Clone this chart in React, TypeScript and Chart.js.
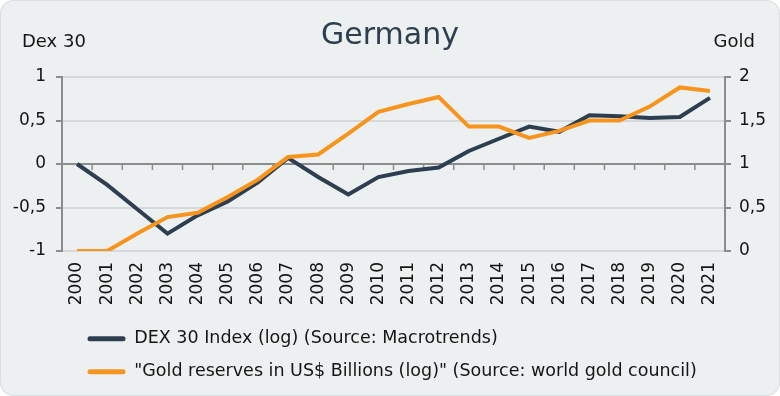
import React, { useEffect, useRef } from 'react';
import { Chart, registerables } from 'chart.js';

Chart.register(...registerables);

// ---- Data ----
const years = ['2000', '2001', '2002', '2003', '2004', '2005', '2006', '2007', '2008', '2009', '2010',
  '2011', '2012', '2013', '2014', '2015', '2016', '2017', '2018', '2019', '2020', '2021'];

const dexValues = [0, -0.24, -0.52, -0.8, -0.59, -0.43, -0.21, 0.07, -0.15, -0.35, -0.15,
  -0.08, -0.04, 0.15, 0.29, 0.43, 0.37, 0.56, 0.55, 0.53, 0.54, 0.76];

const goldValues = [0, 0, 0.2, 0.39, 0.44, 0.62, 0.82, 1.08, 1.11, 1.35, 1.6,
  1.69, 1.77, 1.43, 1.43, 1.3, 1.38, 1.5, 1.5, 1.66, 1.88, 1.84];

const leftRange = [-1, 1];
const rightRange = [0, 2];
const tickStep = 0.5;

const titleText = 'Germany';
const leftAxisTitle = 'Dex 30';
const rightAxisTitle = 'Gold';
const dexLabel = 'DEX 30 Index (log) (Source: Macrotrends)';
const goldLabel = '"Gold reserves in US$ Billions (log)" (Source: world gold council)';

// ---- Styles ----
const FONT = '"DejaVu Sans", sans-serif';
const AXIS_GRAY = '#8c8c8c';
const GRID_GRAY = '#d6d9db';
const TEXT = '#151515';
const DEX_COLOR = '#2C3E50';
const GOLD_COLOR = '#F7941D';

const fmt = (v: number | string) => String(v).replace('.', ',');

const zeroAxisPlugin = {
  id: 'zeroAxis',
  beforeDatasetsDraw(chart: any) {
    const x = chart.scales.x;
    const y = chart.scales.y;
    const y0 = y.getPixelForValue(0);
    const ctx = chart.ctx;
    ctx.save();
    ctx.strokeStyle = AXIS_GRAY;
    ctx.lineWidth = 1.5;
    ctx.beginPath();
    for (let i = 1; i < years.length; i++) {
      const bx = (x.getPixelForValue(i - 1) + x.getPixelForValue(i)) / 2;
      ctx.moveTo(bx, y0);
      ctx.lineTo(bx, y0 + 6);
    }
    ctx.stroke();
    ctx.restore();
  },
};

const headerPlugin = {
  id: 'header',
  afterDraw(chart: any) {
    const ctx = chart.ctx;
    ctx.save();
    ctx.font = `18px ${FONT}`;
    ctx.fillStyle = TEXT;
    ctx.textBaseline = 'middle';
    ctx.textAlign = 'left';
    ctx.fillText(leftAxisTitle, 22, 42);
    ctx.textAlign = 'right';
    ctx.fillText(rightAxisTitle, chart.width - 25, 42);
    ctx.restore();
  },
};

const legendShiftPlugin = {
  id: 'legendShift',
  afterLayout(chart: any) {
    const l = chart.legend;
    if (l) {
      l.left += 10;
      l.right += 10;
    }
  },
};

export default function App() {
  const canvasRef = useRef<HTMLCanvasElement | null>(null);

  useEffect(() => {
    document.body.style.margin = '0';
    const canvas = canvasRef.current;
    if (!canvas) return;
    const chart = new Chart(canvas, {
      type: 'line',
      data: {
        labels: years,
        datasets: [
          {
            label: dexLabel,
            data: dexValues,
            yAxisID: 'y',
            borderColor: DEX_COLOR,
            backgroundColor: DEX_COLOR,
            borderWidth: 4,
            pointRadius: 0,
            tension: 0,
            order: 1,
          },
          {
            label: goldLabel,
            data: goldValues,
            yAxisID: 'y1',
            borderColor: GOLD_COLOR,
            backgroundColor: GOLD_COLOR,
            borderWidth: 4,
            pointRadius: 0,
            tension: 0,
            order: 0,
          },
        ],
      },
      options: {
        responsive: true,
        maintainAspectRatio: false,
        animation: false,
        events: [],
        layout: { padding: { left: 0, right: 0, top: 0, bottom: 5.5 } },
        scales: {
          x: {
            type: 'category',
            offset: true,
            grid: { display: false, drawTicks: false },
            border: { display: false },
            ticks: {
              font: { family: FONT, size: 17 },
              color: TEXT,
              minRotation: 90,
              maxRotation: 90,
              autoSkip: false,
              padding: 11,
            },
            afterFit(scale: any) {
              scale.height = 63.5;
            },
          },
          y: {
            position: 'left',
            min: leftRange[0],
            max: leftRange[1],
            ticks: {
              stepSize: tickStep,
              font: { family: FONT, size: 17 },
              color: TEXT,
              padding: 10,
              callback: (v: any) => fmt(v),
            },
            grid: {
              color: (c: any) => (c.tick && c.tick.value === 0 ? AXIS_GRAY : GRID_GRAY),
              lineWidth: 2,
              tickColor: AXIS_GRAY,
              tickLength: 6,
            },
            border: { display: true, color: AXIS_GRAY, width: 2 },
            afterFit(scale: any) {
              scale.width = 62;
            },
          },
          y1: {
            position: 'right',
            min: rightRange[0],
            max: rightRange[1],
            ticks: {
              stepSize: tickStep,
              font: { family: FONT, size: 17 },
              color: TEXT,
              padding: 8,
              callback: (v: any) => fmt(v),
            },
            grid: {
              drawOnChartArea: false,
              tickColor: AXIS_GRAY,
              tickLength: 6,
              lineWidth: 2,
            },
            border: { display: true, color: AXIS_GRAY, width: 2 },
            afterFit(scale: any) {
              scale.width = 55;
            },
          },
        },
        plugins: {
          title: {
            display: true,
            text: titleText,
            color: DEX_COLOR,
            font: { family: FONT, size: 30, weight: 'normal' },
            padding: { top: 18, bottom: 23 },
          },
          legend: {
            display: true,
            position: 'bottom',
            align: 'start',
            fullSize: false,
            labels: {
              font: { family: FONT, size: 17.5 },
              color: TEXT,
              boxWidth: 38,
              boxHeight: 5,
              padding: 15.5,
              useBorderRadius: true,
              borderRadius: 2.5,
              sort: (a: any, b: any) => a.datasetIndex - b.datasetIndex,
              generateLabels(ch: any) {
                const items = (Chart as any).defaults.plugins.legend.labels.generateLabels(ch);
                return items.map((it: any) => ({ ...it, fillStyle: it.strokeStyle, lineWidth: 0 }));
              },
            },
          },
          tooltip: { enabled: false },
        },
      },
      plugins: [zeroAxisPlugin, headerPlugin, legendShiftPlugin],
    } as any);
    return () => chart.destroy();
  }, []);

  return (
    <div
      style={{
        width: 780,
        height: 396,
        position: 'relative',
        background: '#ECF0F1',
        borderRadius: 14,
        boxShadow: 'inset 0 0 0 1px #d9dee0',
        overflow: 'hidden',
      }}
    >
      <canvas ref={canvasRef} style={{ position: 'absolute', left: 0, top: 0, width: 780, height: 396 }} />
    </div>
  );
}
